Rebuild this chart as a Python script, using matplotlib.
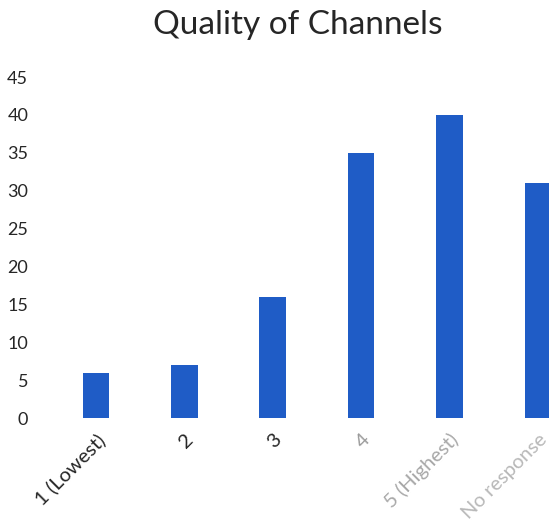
import matplotlib.pyplot as plt

# survey responses per rating
categories = ["1 (Lowest)", "2", "3", "4", "5 (Highest)", "No response"]
counts = [6, 7, 16, 35, 40, 31]
yticks = [0, 5, 10, 15, 20, 25, 30, 35, 40, 45]
label_colors = ["#262626", "#262626", "#262626", "#9a9a9a", "#a8a8a8", "#b8b8b8"]

plt.rcParams["font.family"] = ["Lato", "DejaVu Sans"]

fig = plt.figure(figsize=(5.49, 5.29), dpi=100)
ax = fig.add_axes([0.0944, 0.2098, 0.9658, 0.6446])

x = range(len(categories))
ax.bar(x, counts, width=0.3, color="#1f5cc6", zorder=2)

ax.set_xlim(-0.5, 5.5)
ax.set_ylim(0, 45)
ax.set_yticks(yticks)
ax.set_yticklabels([str(t) for t in yticks], fontsize=13, color="#262626")
ax.tick_params(axis="y", length=0, pad=17)

ax.set_xticks(list(x))
ax.set_xticklabels(categories, fontsize=14.5, rotation=45, ha="right",
                   rotation_mode="anchor")
for lbl, c in zip(ax.get_xticklabels(), label_colors):
    lbl.set_color(c)
ax.tick_params(axis="x", length=0, pad=9)

for s in ax.spines.values():
    s.set_visible(False)

fig.text(0.543, 0.952, "Quality of Channels", ha="center", va="center",
         fontsize=24, color="#262626")

fig.savefig("out.png", dpi=100)
